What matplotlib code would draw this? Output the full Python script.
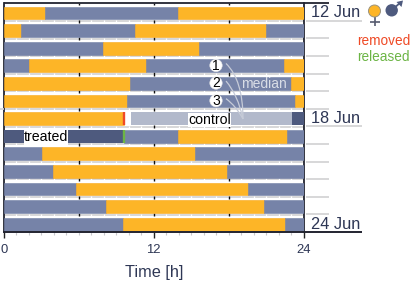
import matplotlib
matplotlib.use("Agg")
import matplotlib.pyplot as plt
from matplotlib.patches import Circle, PathPatch
from matplotlib.path import Path

plt.rcParams['font.family'] = ['Liberation Sans', 'DejaVu Sans']

W, H = 411, 281
NAVY = '#2e3755'
ORANGE = '#fdb527'
BLUE = '#7683a8'
DARK = '#4e5a7e'
LIGHT = '#b2b9cb'
GREY = '#d4d4d6'

# Each row: phase colours in order and the hour at which each phase ends
row_phases = [
    ['F', 'M', 'F'],
    ['F', 'M', 'F', 'M'],
    ['M', 'F', 'M'],
    ['M', 'F', 'M', 'F'],
    ['F', 'M', 'F'],
    ['F', 'M', 'F'],
    ['F', 'C', 'D'],
    ['D', 'M', 'F', 'M'],
    ['M', 'F', 'M'],
    ['M', 'F', 'M'],
    ['M', 'F', 'M'],
    ['M', 'F', 'M'],
    ['M', 'F', 'M'],
]
row_ends = [
    [3.3, 13.93, 24],
    [1.36, 10.5, 20.98, 24],
    [7.97, 15.64, 24],
    [2.0, 11.4, 22.4, 24],
    [10.08, 22.99, 24],
    [9.86, 23.28, 24],
    [9.65, 23.1, 24],
    [9.65, 13.98, 22.67, 24],
    [3.07, 15.3, 24],
    [3.93, 17.86, 24],
    [5.8, 19.54, 24],
    [8.2, 20.8, 24],
    [9.57, 22.5, 24],
]
phase_colours = {'F': ORANGE, 'M': BLUE, 'D': DARK, 'C': LIGHT}
event_hour = 9.65
control_start = 10.2
date_rows = [1, 7, 13]
date_labels = ['12 Jun', '18 Jun', '24 Jun']
x_ticks = [0, 12, 24]
median_rows = [3.55, 4.55, 5.55]

fig = plt.figure(figsize=(W / 100, H / 100), dpi=100)
L, R, T, B = 4.0, 303.5, 3.0, 231.7
ax = fig.add_axes([L / W, 1 - B / H, (R - L) / W, (B - T) / H])
ax.set_xlim(0, 24)
ax.set_ylim(13, 0)
ax.set_yticks([])
ax.set_xticks(x_ticks)
ax.set_xticks(range(25), minor=True)
ax.tick_params(axis='x', which='major', length=4, width=1.0, color='#222222',
               labelsize=9.4, labelcolor=NAVY, pad=5)
ax.tick_params(axis='x', which='minor', length=2.5, width=0.8, color='#c8c8cc')
for s in ['left', 'right', 'bottom', 'top']:
    ax.spines[s].set_color('#222430')
    ax.spines[s].set_linewidth(1.3)
ax.spines['top'].set_visible(False)
ax.spines['bottom'].set_visible(False)

# row separators and little ticks
for i in range(1, 13):
    ax.plot([0, 24], [i + 0.03, i + 0.03], color=GREY, lw=1.3, zorder=1, solid_capstyle='butt')
    for h in range(1, 24):
        major = h % 6 == 0
        ax.plot([h, h], [i - 0.05, i + 0.13] if major else [i - 0.03, i + 0.1],
                color='#111111' if major else 'white', lw=1.0 if major else 0.9, zorder=2,
                solid_capstyle='butt')
for h in (6, 12, 18):
    ax.plot([h, h], [0, 0.12], color='#111111', lw=1.0, zorder=2, solid_capstyle='butt')
    ax.plot([h, h], [13 - 0.1, 13], color='#111111', lw=1.0, zorder=2, solid_capstyle='butt')

# phase bars
for i, (phases, ends) in enumerate(zip(row_phases, row_ends)):
    start = 0
    for ph, end in zip(phases, ends):
        left = control_start if ph == 'C' else start
        edge = '#f9a71b' if ph == 'F' else ('#7280a6' if ph == 'M' else 'none')
        ax.barh(i + 0.57, end - left, height=0.73, left=left, color=phase_colours[ph],
                edgecolor=edge, linewidth=0.4, zorder=3)
        start = end

# removal / release markers
ax.plot([event_hour, event_hour], [6.2, 6.93], color='#ef4a26', lw=1.7, zorder=5, solid_capstyle='butt')
ax.plot([event_hour, event_hour], [7.2, 7.93], color='#6cb545', lw=1.7, zorder=5, solid_capstyle='butt')

ax.set_xlabel('Time [h]', fontsize=11.7, color=NAVY, labelpad=6)

# overlay in pixel coordinates for annotations
ov = fig.add_axes([0, 0, 1, 1], facecolor='none')
ov.set_xlim(0, W)
ov.set_ylim(H, 0)
ov.axis('off')

# extensions to the right
step = (B - T) / 13
for i in range(1, 13):
    y = T + i * step + 0.3
    long_line = i in date_rows
    ov.plot([306, 362 if long_line else 329], [y, y], color=GREY, lw=1.3, solid_capstyle='butt')
ov.plot([L, 329], [T, T], color='#222430', lw=1.3, solid_capstyle='butt')
ov.plot([L - 0.6, 362], [B, B], color='#222430', lw=1.4, solid_capstyle='butt')
ov.plot([0, L], [T + 6 * step, T + 6 * step], color=GREY, lw=1.3, solid_capstyle='butt')

for r, lab in zip(date_rows, date_labels):
    y = T + r * step - 3.3 if r != 13 else B - 2.4
    ov.text(311, y, lab, fontsize=11.8, color=NAVY, ha='left', va='baseline')

ov.text(356.7, 41, 'removed', fontsize=9.8, color='#ef4a26', ha='left', va='center')
ov.text(356.7, 57, 'released', fontsize=9.8, color='#6cb545', ha='left', va='center')

ov.text(46, 137.3, 'treated', fontsize=10.2, color='black', ha='center', va='center',
        bbox=dict(fc='white', ec='none', pad=0.2), zorder=6)
ov.text(209.5, 119.8, 'control', fontsize=10.2, color='black', ha='center', va='center',
        bbox=dict(fc='white', ec='none', pad=0.2), zorder=6)
ov.text(263.5, 83.5, 'median', fontsize=10, color='#d9dde6', ha='center', va='center', zorder=6)

# median callouts
for r, lab, ctrl in zip(median_rows, '123', [(243, 80), (238, 95), (236, 106)]):
    y = T + r * step
    ov.add_patch(PathPatch(Path([(226, y - 2), ctrl, (243, 119)], [Path.MOVETO, Path.CURVE3, Path.CURVE3]),
                           fc='none', ec='#c6cbd8', lw=0.9, zorder=5))
    ov.add_patch(Circle((216, y), 6.2, fc='white', ec='#e8e8e8', lw=0.4, zorder=6))
    ov.text(216, y + 0.2, lab, fontsize=10, color='black', ha='center', va='center', zorder=7)

# sex symbols
ov.plot([374.5, 374.5], [16, 26], color='#555a6e', lw=1.2, solid_capstyle='butt')
ov.plot([369.5, 379.5], [21.5, 21.5], color='#555a6e', lw=1.2, solid_capstyle='butt')
ov.add_patch(Circle((374.5, 11), 6, fc=ORANGE, ec='#9a937f', lw=0.7, zorder=4))
ov.plot([392, 401], [10, 2], color=DARK, lw=1.3, solid_capstyle='butt')
ov.fill([403, 396.5, 401.5], [0.5, 2, 7], color=DARK, lw=0)
ov.add_patch(Circle((391.7, 10.3), 6.2, fc=DARK, ec='none', zorder=4))

fig.savefig('out.png', dpi=100)
